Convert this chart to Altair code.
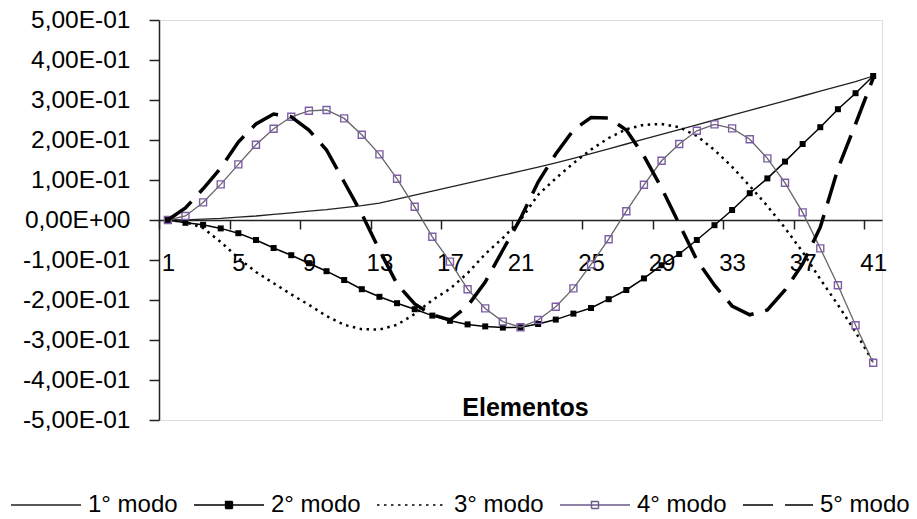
import altair as alt
import pandas as pd

FONT = "Liberation Sans"

# Element numbers along the beam
elementos = list(range(1, 42))

# Legend names of the five mode shapes
series = ["1° modo", "2° modo", "3° modo", "4° modo", "5° modo"]

# Normalised modal displacements per element
modo1 = [0, 0.0005, 0.002, 0.004, 0.007, 0.010, 0.014, 0.018, 0.022, 0.026,
         0.031, 0.036, 0.042, 0.052, 0.062, 0.072, 0.082, 0.092, 0.102, 0.112,
         0.122, 0.132, 0.143, 0.154, 0.166, 0.178, 0.190, 0.202, 0.214, 0.226,
         0.238, 0.250, 0.262, 0.274, 0.286, 0.298, 0.310, 0.322, 0.334, 0.346,
         0.360]
modo2 = [0, -0.007, -0.012, -0.021, -0.033, -0.050, -0.070, -0.088, -0.108, -0.128,
         -0.150, -0.173, -0.192, -0.208, -0.223, -0.239, -0.252, -0.261, -0.266, -0.269,
         -0.268, -0.260, -0.249, -0.234, -0.220, -0.198, -0.175, -0.146, -0.113, -0.085,
         -0.050, -0.013, 0.025, 0.067, 0.104, 0.146, 0.190, 0.232, 0.277, 0.317,
         0.360]
modo3 = [0, -0.005, -0.020, -0.055, -0.095, -0.130, -0.158, -0.186, -0.212, -0.240,
         -0.262, -0.273, -0.274, -0.262, -0.235, -0.200, -0.172, -0.133, -0.085, -0.045,
         0.000, 0.063, 0.104, 0.142, 0.176, 0.205, 0.227, 0.238, 0.240, 0.232,
         0.210, 0.175, 0.133, 0.085, 0.035, -0.020, -0.080, -0.148, -0.212, -0.280,
         -0.355]
modo4 = [0, 0.010, 0.044, 0.089, 0.139, 0.188, 0.228, 0.258, 0.273, 0.275,
         0.254, 0.213, 0.164, 0.103, 0.033, -0.042, -0.104, -0.173, -0.221, -0.254,
         -0.268, -0.250, -0.217, -0.171, -0.111, -0.048, 0.022, 0.088, 0.148, 0.190,
         0.223, 0.239, 0.229, 0.202, 0.154, 0.093, 0.019, -0.071, -0.163, -0.263,
         -0.357]
modo5 = [0, 0.030, 0.078, 0.130, 0.195, 0.240, 0.265, 0.258, 0.225, 0.175,
         0.095, 0.015, -0.075, -0.160, -0.210, -0.237, -0.250, -0.215, -0.155, -0.075,
         0.004, 0.095, 0.165, 0.225, 0.256, 0.255, 0.225, 0.160, 0.080, -0.010,
         -0.100, -0.163, -0.215, -0.237, -0.225, -0.175, -0.110, -0.018, 0.128, 0.240,
         0.355]

# Axis ticks sit between categories; labels name every fourth element
x_tick_values = [0.5 + 4 * i for i in range(11)]
x_label_values = [1 + 4 * i for i in range(11)]
y_tick_values = [round(-0.5 + 0.1 * i, 1) for i in range(11)]

rows = []
for nome, valores in zip(series, [modo1, modo2, modo3, modo4, modo5]):
    for e, v in zip(elementos, valores):
        rows.append({"elemento": e, "serie": nome, "valor": v})
df = pd.DataFrame(rows)

W, H = 723, 400
x_scale = alt.Scale(domain=[0.5, 41.5], nice=False, zero=False)
y_scale = alt.Scale(domain=[-0.5, 0.5], nice=False)

DOTS = [2.5, 4.5]
DASHES = [30, 12]

# Horizontal axis through zero: line, ticks and title
x_axis_ticks = alt.Axis(
    orient="bottom",
    values=x_tick_values,
    labels=False,
    offset=-H / 2,
    grid=False,
    domainColor="#222", domainWidth=1.5,
    tickColor="#222", tickWidth=1.5, tickSize=9,
    title="Elementos", titleFont=FONT, titleFontSize=25, titleFontWeight="bold",
    titleColor="#000", titleX=366, titleY=187, titleBaseline="middle",
)

# Category labels centred on the elements
x_axis_labels = alt.Axis(
    orient="bottom",
    values=x_label_values,
    format="d",
    offset=-H / 2,
    grid=False, domain=False, ticks=False,
    labelPadding=31, labelFont=FONT, labelFontSize=24, labelColor="#000",
    labelOverlap=False, labelFlush=False, labelBound=False,
    title=None,
)

y_axis = alt.Axis(
    values=y_tick_values,
    labelExpr="datum.value == 0 ? '0,00E+00' : (datum.value < 0 ? '-' : '') + "
              "replace(format(abs(datum.value) * 10, '.2f'), '.', ',') + 'E-01'",
    grid=False,
    domainColor="#222", domainWidth=1.5,
    tickColor="#222", tickWidth=1.5, tickSize=10,
    labelPadding=19, labelFont=FONT, labelFontSize=24.5, labelColor="#000",
    labelOverlap=False, labelBound=False,
    title=None,
)

base = alt.Chart(df).encode(
    x=alt.X("elemento:Q", scale=x_scale, axis=x_axis_ticks),
    y=alt.Y("valor:Q", scale=y_scale, axis=y_axis),
)


def serie(nome):
    return base.transform_filter(alt.datum.serie == nome)


l1 = serie(series[0]).mark_line(color="#222", strokeWidth=1.3)
l2 = serie(series[1]).mark_line(color="#000", strokeWidth=1.5)
p2 = serie(series[1]).mark_point(shape="square", filled=True, color="#000", size=36, opacity=1)
l3 = serie(series[2]).mark_line(color="#000", strokeWidth=2.5, strokeDash=DOTS)
l4 = serie(series[3]).mark_line(color="#666", strokeWidth=1.3)
p4 = serie(series[3]).mark_point(shape="square", filled=False, color="#7E5EA6", size=49,
                                 strokeWidth=1.4, opacity=1)
l5 = serie(series[4]).mark_line(color="#000", strokeWidth=3.5, strokeDash=DASHES)

lines = alt.layer(l1, l2, p2, l3, l4, p4, l5)

# Legend symbols: a line, optionally with a square marker in the middle
linha = "M-1,0L1,0"
linha_quadrado = "M-1,0L1,0M-0.1,-0.1L0.1,-0.1L0.1,0.1L-0.1,0.1Z"

legenda = alt.Legend(
    title=None, orient="none", legendX=-149, legendY=470,
    direction="horizontal", columns=5, padding=0,
    symbolSize=4900, clipHeight=30,
    labelFont=FONT, labelFontSize=24, labelColor="#000",
    labelOffset=6, columnPadding=15,
)

chave = alt.Chart(df).transform_filter("false").mark_point(opacity=1, size=4900).encode(
    x=alt.X("elemento:Q", scale=x_scale, axis=x_axis_labels),
    y=alt.Y("valor:Q", scale=y_scale, axis=y_axis),
    shape=alt.Shape("serie:N", scale=alt.Scale(domain=series,
                    range=[linha, linha_quadrado, linha, linha_quadrado, linha]), legend=legenda),
    stroke=alt.Stroke("serie:N", scale=alt.Scale(domain=series,
                      range=["#222", "#000", "#000", "#6E5A8A", "#000"]), legend=legenda),
    fill=alt.Fill("serie:N", scale=alt.Scale(domain=series,
                  range=["transparent", "#000", "transparent", "transparent", "transparent"]),
                  legend=legenda),
    strokeDash=alt.StrokeDash("serie:N", scale=alt.Scale(domain=series,
                              range=[[1, 0], [1, 0], DOTS, [1, 0], DASHES]), legend=legenda),
    strokeWidth=alt.StrokeWidth("serie:O", scale=alt.Scale(domain=series,
                                range=[1.3, 1.5, 2.5, 1.3, 3.5]), legend=legenda),
)

chart = alt.layer(lines, chave).resolve_axis(x="independent").properties(
    width=W, height=H,
    autosize=alt.AutoSizeParams(type="none"),
    padding={"left": 159, "top": 20, "right": 35, "bottom": 99},
).configure_view(stroke=None).configure(background="white")

chart.save("out.html", embed_options={"renderer": "svg", "actions": False})
